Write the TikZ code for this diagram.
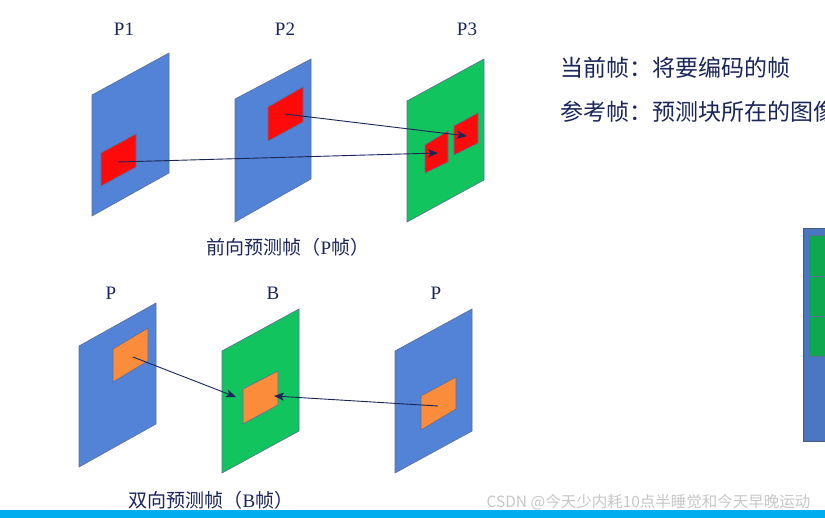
\documentclass[tikz,border=0pt]{standalone}
\usepackage{fontspec}
\setmainfont{Liberation Serif}
\newfontfamily\cjk{Noto Sans CJK SC}
\usepackage{xcolor}
\usepackage{tikz}
\usetikzlibrary{arrows.meta}
\definecolor{planeblue}{HTML}{5383D6}
\definecolor{planegreen}{HTML}{12C45E}
\definecolor{blockred}{HTML}{FF0A0A}
\definecolor{blockorange}{HTML}{FA8C3C}
\definecolor{edgegray}{HTML}{5A6E96}
\definecolor{inknavy}{HTML}{1A2558}
\definecolor{barcyan}{HTML}{00AEEF}
\tikzstyle{plane}=[draw=edgegray,line width=0.6pt]
\tikzstyle{block}=[draw=edgegray,line width=0.6pt]
\tikzstyle{mv}=[draw=inknavy,line width=0.9pt,-{Stealth[length=10pt,width=8pt,inset=2.5pt]}]
\tikzstyle{framelabel}=[text=inknavy,font=\fontsize{19}{22}\selectfont]
\tikzstyle{caption}=[text=inknavy,font=\fontsize{19}{22}\selectfont]
\tikzstyle{note}=[text=inknavy,font=\fontsize{23}{27}\selectfont\cjk,anchor=west]

\begin{document}
\begin{tikzpicture}[x=1pt,y=-1pt]
	\useasboundingbox (0,0) rectangle (825,518);
	\clip (0,0) rectangle (825,518);
	\fill[white] (0,0) rectangle (825,518);
	\draw[plane,fill=planeblue] (92,95) -- (169,53) -- (169,173) -- (92,216) -- cycle;
	\draw[block,fill=blockred] (101,153) -- (136,134) -- (136,167) -- (101,186) -- cycle;
	\draw[plane,fill=planeblue] (235,99) -- (311,59) -- (311,179) -- (235,222) -- cycle;
	\draw[block,fill=blockred] (268,107) -- (303,87) -- (303,122) -- (268,141) -- cycle;
	\draw[plane,fill=planegreen] (407,101) -- (484,59) -- (484,180) -- (407,222) -- cycle;
	\draw[block,fill=blockred] (425,145) -- (448,131) -- (448,162) -- (425,173) -- cycle;
	\draw[block,fill=blockred] (454,126) -- (478,113) -- (478,143) -- (454,155) -- cycle;
	\coordinate (p1blk) at (118,162);
	\coordinate (p2blk) at (285,114);
	\coordinate (p3blka) at (438,153);
	\coordinate (p3blkb) at (467,136);
	\draw[mv] (p1blk) -- (p3blka);
	\draw[mv] (p2blk) -- (p3blkb);
	\node[framelabel] (p1) at (124,29) {P1};
	\node[framelabel] (p2) at (285,29) {P2};
	\node[framelabel] (p3) at (467,29) {P3};
	\node[caption] (fwd) at (288,247) {{\cjk 前向预测帧（}P{\cjk 帧）}};

	\draw[plane,fill=planeblue] (79,346) -- (156,303) -- (156,424) -- (79,467) -- cycle;
	\draw[block,fill=blockorange] (113,349) -- (148,328) -- (148,361) -- (113,382) -- cycle;
	\draw[plane,fill=planegreen] (222,351) -- (299,309) -- (299,431) -- (222,473) -- cycle;
	\draw[block,fill=blockorange] (243,389) -- (278,371) -- (278,405) -- (243,424) -- cycle;
	\draw[plane,fill=planeblue] (395,351) -- (472,309) -- (472,431) -- (395,473) -- cycle;
	\draw[block,fill=blockorange] (421,396) -- (456,377) -- (456,409) -- (421,430) -- cycle;
	\coordinate (pablk) at (133,357);
	\coordinate (bblka) at (236,397);
	\coordinate (bblkb) at (274,396);
	\coordinate (pbblk) at (438,406);
	\draw[mv] (pablk) -- (bblka);
	\draw[mv] (pbblk) -- (bblkb);
	\node[framelabel] (pa) at (111,293) {P};
	\node[framelabel] (b) at (273,293) {B};
	\node[framelabel] (pb) at (436,293) {P};
	\node[caption] (bidir) at (211,500) {{\cjk 双向预测帧（}B{\cjk 帧）}};

	\node[note] (cur) at (557,68) {当前帧：将要编码的帧};
	\node[note] (ref) at (557,112) {参考帧：预测块所在的图像};

	\draw[draw=edgegray!80!black,line width=1pt,fill=planeblue!90!black] (803,229) rectangle (840,442);
	\draw[draw=edgegray,line width=1pt,fill=planegreen!85!black] (809,236) rectangle (840,277);
	\draw[draw=edgegray,line width=1pt,fill=planegreen!85!black] (809,277) rectangle (840,317);
	\draw[draw=edgegray,line width=1pt,fill=planegreen!85!black] (809,317) rectangle (840,357);

	\fill[barcyan] (0,510) rectangle (825,518);
	\node[text=black!22,font=\fontsize{15.5}{18}\selectfont\cjk,anchor=west] (wm) at (483,502) {CSDN @今天少内耗10点半睡觉和今天早晚运动};
\end{tikzpicture}
\end{document}
